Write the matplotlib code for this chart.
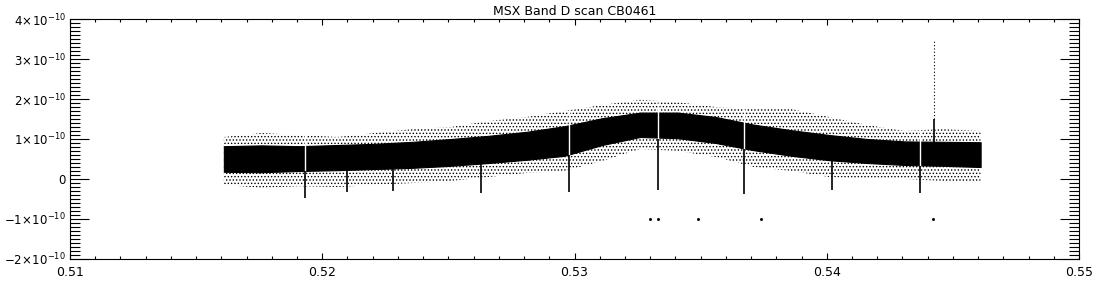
import numpy as np
import matplotlib
matplotlib.use("Agg")
import matplotlib.pyplot as plt
from matplotlib.ticker import MultipleLocator, FixedLocator

scale = 1e-10

# sampling positions along the scan
scan_x = [0.5161, 0.5176, 0.5191, 0.5206, 0.5221, 0.5236, 0.5251, 0.5266,
          0.5281, 0.5296, 0.5311, 0.5326, 0.5341, 0.5356, 0.5371, 0.5386,
          0.5401, 0.5416, 0.5431, 0.5446, 0.5461]
# dense part of the signal (units of 1e-10)
dense_lo = [0.18, 0.17, 0.20, 0.22, 0.25, 0.28, 0.33, 0.40, 0.48, 0.58, 0.85,
            1.05, 1.02, 0.90, 0.72, 0.58, 0.47, 0.40, 0.35, 0.33, 0.30]
dense_hi = [0.82, 0.84, 0.82, 0.85, 0.88, 0.93, 1.00, 1.08, 1.18, 1.32, 1.52,
            1.66, 1.66, 1.55, 1.36, 1.22, 1.10, 1.00, 0.94, 0.93, 0.92]
# sparse scatter around it
outer_lo = [-0.15, -0.22, -0.18, -0.20, -0.15, -0.10, -0.05, 0.05, 0.15, 0.20,
            0.45, 0.75, 0.70, 0.55, 0.30, 0.20, 0.05, 0.00, 0.00, -0.05, -0.05]
outer_hi = [1.05, 1.15, 1.10, 1.05, 1.15, 1.25, 1.30, 1.45, 1.55, 1.70, 1.85,
            1.98, 1.92, 1.80, 1.75, 1.75, 1.55, 1.35, 1.20, 1.25, 1.20]

# narrow dips below the band
dip_x = [0.5193, 0.5210, 0.5228, 0.5263, 0.5298, 0.5333, 0.5367, 0.5402, 0.5437]
dip_top = [0.20, 0.20, 0.25, 0.40, 0.60, 1.00, 0.75, 0.45, 0.33]
dip_min = [-0.48, -0.33, -0.30, -0.35, -0.32, -0.28, -0.37, -0.28, -0.35]

# white gaps through the band
gap_x = [0.5193, 0.5298, 0.5333, 0.5367, 0.5437]
gap_lo = [0.20, 0.60, 1.00, 0.75, 0.33]
gap_hi = [1.10, 1.70, 1.90, 1.75, 1.20]

# isolated points
iso_x = [0.5330, 0.5333, 0.5349, 0.5374, 0.5442]
iso_y = [-1.00, -1.00, -1.01, -1.00, -1.01]

# bright spike
spike_x = 0.54424
spike_base = 0.9
spike_mid = 1.5
spike_top = 3.48

# axis ticks
x_ticks = [0.51, 0.52, 0.53, 0.54, 0.55]
x_labels = ['0.51', '0.52', '0.53', '0.54', '0.55']
y_ticks = [-2, -1, 0, 1, 2, 3, 4]
y_labels = [r'$-2\!\times\!10^{-10}$', r'$-1\!\times\!10^{-10}$', '0',
            r'$1\!\times\!10^{-10}$', r'$2\!\times\!10^{-10}$',
            r'$3\!\times\!10^{-10}$', r'$4\!\times\!10^{-10}$']

sx = np.array(scan_x)

fig = plt.figure(figsize=(11, 3), dpi=100)
ax = fig.add_axes([70/1100, 41/300, 1009/1100, 240/300])

plt.rcParams['hatch.linewidth'] = 0.6
ax.fill_between(sx, np.array(outer_lo)*scale, np.array(outer_hi)*scale,
                facecolor='white', edgecolor='black', hatch='.....', linewidth=0)
ax.fill_between(sx, np.array(dense_lo)*scale, np.array(dense_hi)*scale,
                color='black', linewidth=0.8)

ax.vlines(gap_x, np.array(gap_lo)*scale, np.array(gap_hi)*scale,
          color='white', linewidth=1.0)
ax.vlines(dip_x, np.array(dip_min)*scale, np.array(dip_top)*scale,
          color='black', linewidth=1.2)

ax.vlines([spike_x], [spike_base*scale], [spike_mid*scale], color='black', linewidth=1.2)
ax.vlines([spike_x], [spike_mid*scale], [spike_top*scale], color='black',
          linewidth=0.8, linestyles=(0, (1, 2)))

ax.plot(iso_x, np.array(iso_y)*scale, 's', color='black', markersize=1, linestyle='none')

ax.set_xlim(0.51, 0.55)
ax.set_ylim(-2e-10, 4e-10)

ax.set_xticks(x_ticks)
ax.set_xticklabels(x_labels)
ax.set_yticks([v*scale for v in y_ticks])
ax.set_yticklabels(y_labels)
ax.xaxis.set_minor_locator(FixedLocator(np.arange(511, 550) / 1000.0))
ax.yaxis.set_minor_locator(MultipleLocator(1e-11))

ax.tick_params(axis='x', which='major', direction='in', length=4, width=0.8,
               top=True, bottom=True, labelsize=9, pad=5)
ax.tick_params(axis='x', which='minor', direction='in', length=2, width=0.8,
               top=True, bottom=True)
ax.tick_params(axis='y', which='major', direction='in', length=14, width=0.8,
               left=True, right=True, labelsize=8.5, pad=3)
ax.tick_params(axis='y', which='minor', direction='in', length=7, width=0.8,
               left=True, right=True)
for s in ax.spines.values():
    s.set_linewidth(0.8)

ax.set_title('MSX Band D scan CB0461', fontsize=9, pad=3)

fig.savefig('out.png', dpi=100)
